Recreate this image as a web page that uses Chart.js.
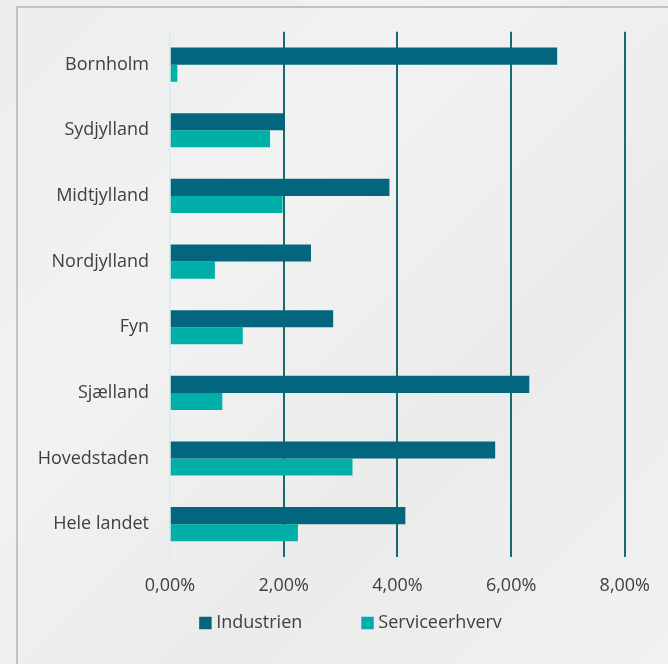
<!DOCTYPE html>
<html><head><meta charset="utf-8">
<script src="https://cdn.jsdelivr.net/npm/chart.js@4.4.0/dist/chart.umd.min.js"></script>
<style>
html,body{margin:0;padding:0;}
body{width:668px;height:664px;position:relative;overflow:hidden;background:#efefef;background-image:linear-gradient(135deg,#ededed 0%,#f2f2f2 35%,#ebebeb 65%,#f1f1f1 100%);}
#panel{position:absolute;left:16px;top:6px;width:720px;height:720px;border-left:2px solid #c2c2c2;border-top:2px solid #c2c2c2;box-sizing:border-box;}
#wrap{position:absolute;left:0;top:0;width:668px;height:664px;}
</style></head><body>
<div id="panel"></div>
<div id="wrap"><canvas id="c" width="668" height="664"></canvas></div>
<script>
const categories = ["Bornholm","Sydjylland","Midtjylland","Nordjylland","Fyn","Sjælland","Hovedstaden","Hele landet"];
const industrien = [6.81, 2.02, 3.86, 2.48, 2.87, 6.32, 5.72, 4.14];
const serviceerhverv = [0.13, 1.76, 1.98, 0.79, 1.28, 0.92, 3.21, 2.25];
const xTickValues = [0, 2, 4, 6, 8];
const seriesNames = ["Industrien", "Serviceerhverv"];

const FONT = "'Open Sans', 'Noto Sans', sans-serif";
const TEXT = '#404040';
const fmt = v => v.toFixed(2).replace('.', ',') + '%';

// Legend drawn below the axis, styled like the original (small square, tight text gap)
const bottomLegend = {
  id: 'bottomLegend',
  afterDraw(chart) {
    const ctx = chart.ctx;
    const box = 12.5, gapText = 4.5, gapItem = 59, centerX = 350.5, centerY = 623;
    ctx.save();
    ctx.font = "18px " + FONT;
    ctx.textBaseline = 'middle';
    ctx.textAlign = 'left';
    const items = chart.data.datasets.map(ds => ({
      label: ds.label, color: ds.backgroundColor,
      w: box + gapText + ctx.measureText(ds.label).width
    }));
    const total = items.reduce((a, it) => a + it.w, 0) + gapItem * (items.length - 1);
    let x = centerX - total / 2;
    items.forEach(it => {
      ctx.fillStyle = it.color;
      ctx.fillRect(x, centerY - box / 2, box, box);
      ctx.fillStyle = TEXT;
      ctx.fillText(it.label, x + box + gapText, centerY);
      x += it.w + gapItem;
    });
    ctx.restore();
  }
};

new Chart(document.getElementById('c'), {
  type: 'bar',
  data: {
    labels: categories,
    datasets: [
      {label: seriesNames[0], data: industrien, backgroundColor: '#02677e', borderWidth: 0},
      {label: seriesNames[1], data: serviceerhverv, backgroundColor: '#00b0a8', borderWidth: 0}
    ]
  },
  plugins: [bottomLegend],
  options: {
    indexAxis: 'y',
    responsive: false,
    animation: false,
    devicePixelRatio: 1,
    layout: {padding: {left: 0, right: 41, top: 31.5, bottom: 0}},
    datasets: {bar: {categoryPercentage: 0.52, barPercentage: 1}},
    scales: {
      x: {
        min: 0, max: 8,
        afterBuildTicks: s => { s.ticks = xTickValues.map(v => ({value: v})); },
        afterFit: s => { s.height = 107; },
        grid: {
          drawTicks: false,
          color: c => c.index === 0 ? '#c6f3f1' : '#176c6a',
          lineWidth: c => c.index === 0 ? 1.5 : 2
        },
        border: {display: false},
        ticks: {
          padding: 18,
          maxRotation: 0,
          autoSkip: false,
          color: TEXT,
          font: {family: FONT, size: 18},
          callback: v => fmt(v)
        }
      },
      y: {
        afterFit: s => { s.width = 170; },
        grid: {display: false, drawTicks: false},
        border: {display: false},
        ticks: {padding: 21, color: TEXT, font: {family: FONT, size: 18}}
      }
    },
    plugins: {
      legend: {display: false},
      tooltip: {enabled: false}
    }
  }
});
</script>
</body></html>
